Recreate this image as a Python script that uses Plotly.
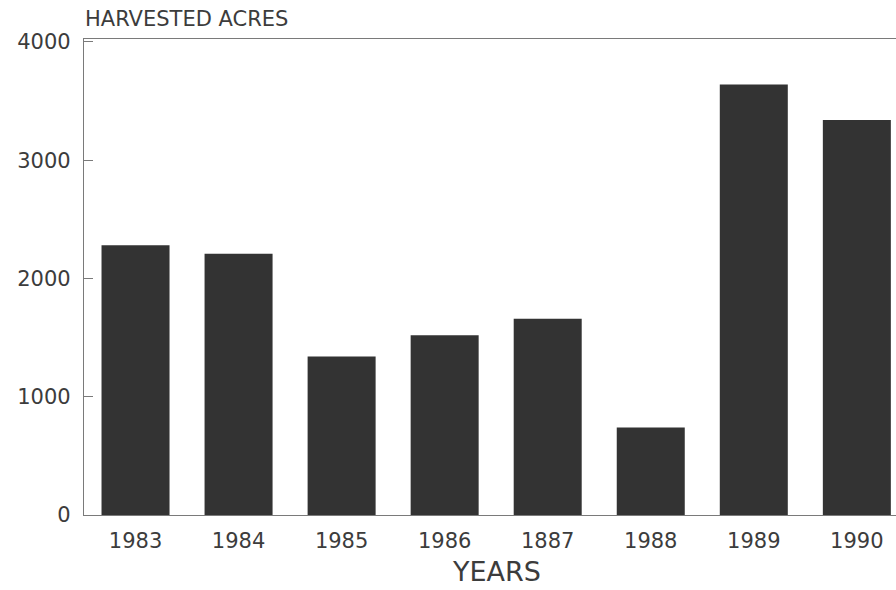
import plotly.graph_objects as go

years = ["1983", "1984", "1985", "1986", "1887", "1988", "1989", "1990"]
acres = [2280, 2210, 1340, 1520, 1660, 740, 3640, 3340]
y_ticks = [0, 1000, 2000, 3000, 4000]

FONT = "DejaVu Sans, Liberation Sans, Arial, sans-serif"
TEXT = "#3c3c3c"
LINE = "#7a7a7a"

fig = go.Figure(go.Bar(x=years, y=acres, marker=dict(color="#333333", line=dict(width=0)),
                       hoverinfo="skip"))

fig.update_layout(
    width=896, height=590,
    margin=dict(l=84, r=0, t=39, b=75, autoexpand=False),
    paper_bgcolor="white", plot_bgcolor="white",
    bargap=0.34,
    showlegend=False,
    font=dict(family=FONT, color=TEXT),
)
fig.update_xaxes(
    type="category", range=[-0.5, 7.38], automargin=False,
    showline=True, linecolor=LINE, linewidth=1.3, mirror=True,
    showgrid=False, ticks="", tickfont=dict(size=21, color=TEXT),
    ticklabelstandoff=7,
)
fig.update_yaxes(
    range=[0, 4025], tickvals=y_ticks, automargin=False,
    showline=True, linecolor=LINE, linewidth=1.3,
    showgrid=False, zeroline=False,
    ticks="inside", ticklen=9, tickcolor=LINE,
    tickfont=dict(size=21, color=TEXT),
    ticklabelstandoff=8,
)
fig.add_annotation(text="HARVESTED ACRES", xref="paper", yref="paper",
                   x=-0.001, y=1, yshift=20, xanchor="left", yanchor="middle",
                   showarrow=False, font=dict(size=21, color=TEXT, family=FONT))
fig.add_annotation(text="YEARS", xref="paper", yref="paper",
                   x=0.508, y=-0.119, xanchor="center", yanchor="middle",
                   showarrow=False, font=dict(size=27, color=TEXT, family=FONT))

fig.write_html("out.html", config={"displayModeBar": False},
               post_script="document.body.style.margin='0';document.body.style.overflow='hidden';")
